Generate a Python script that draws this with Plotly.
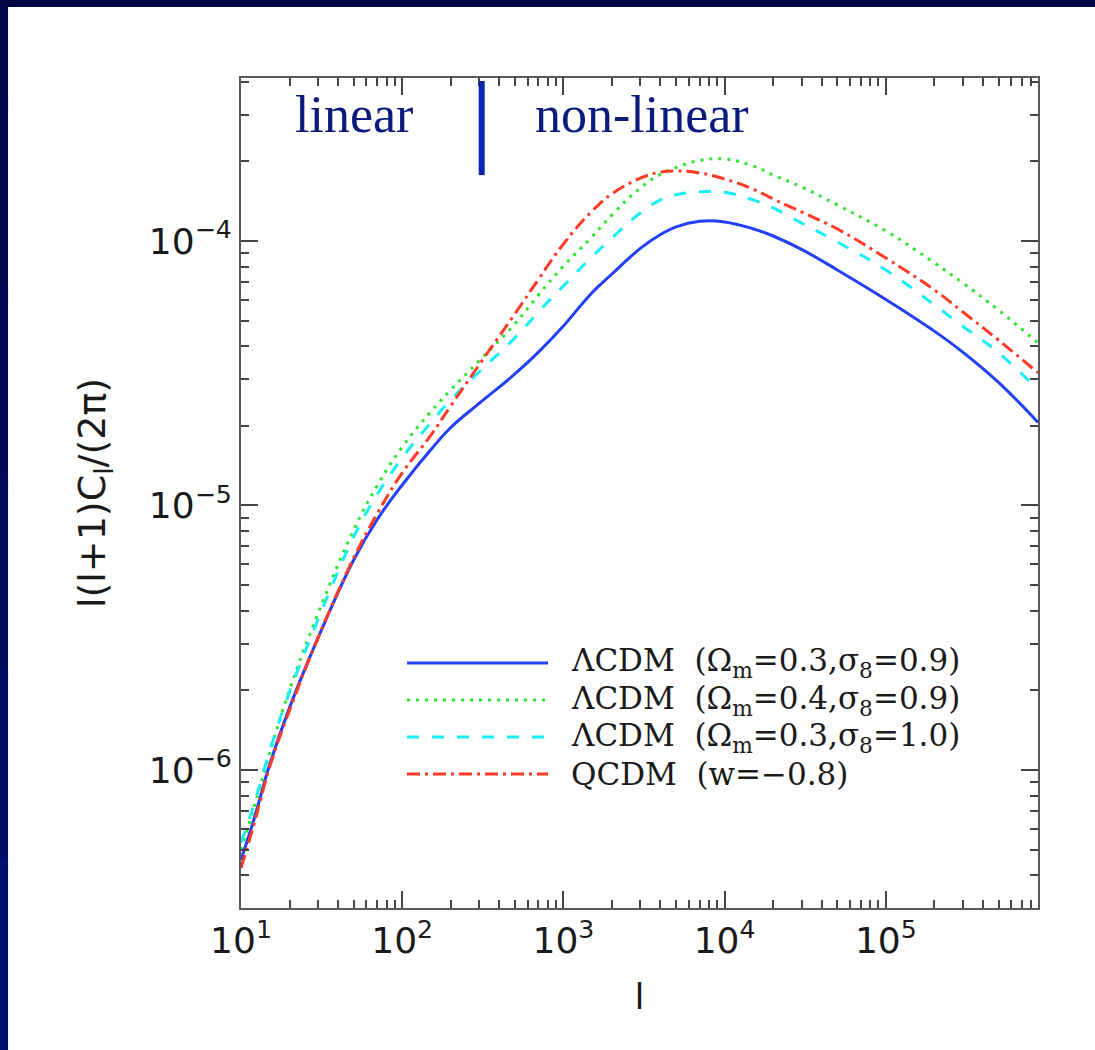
import plotly.graph_objects as go

# multipole moments (shared sampling for all four models)
ell = [10, 12, 15, 20, 30, 50, 70, 100, 150, 200, 300, 500, 700, 1000, 1500,
       2000, 3000, 4000, 5000, 7000, 1e4, 1.5e4, 2e4, 3e4, 5e4, 1e5, 2e5, 3e5,
       5e5, 8.8e5]

# l(l+1)C_l/(2pi) for each cosmology
lcdm_om03_s09 = [4.57e-7, 6.47e-7, 1.04e-6, 1.72e-6, 3.15e-6, 6.22e-6, 8.85e-6,
                 1.195e-5, 1.62e-5, 1.97e-5, 2.43e-5, 3.14e-5, 3.80e-5, 4.77e-5,
                 6.36e-5, 7.50e-5, 9.37e-5, 1.058e-4, 1.131e-4, 1.186e-4,
                 1.18e-4, 1.112e-4, 1.044e-4, 9.29e-5, 7.77e-5, 6.01e-5,
                 4.56e-5, 3.80e-5, 2.92e-5, 2.06e-5]
lcdm_om04_s09 = [4.98e-7, 7.18e-7, 1.149e-6, 2.007e-6, 3.89e-6, 8.08e-6,
                 1.188e-5, 1.664e-5, 2.257e-5, 2.733e-5, 3.52e-5, 4.86e-5,
                 6.25e-5, 8.04e-5, 1.035e-4, 1.254e-4, 1.586e-4, 1.786e-4,
                 1.894e-4, 2.014e-4, 2.04e-4, 1.921e-4, 1.776e-4, 1.60e-4,
                 1.368e-4, 1.091e-4, 8.26e-5, 6.94e-5, 5.48e-5, 4.11e-5]
lcdm_om03_s10 = [5.30e-7, 7.37e-7, 1.17e-6, 1.972e-6, 3.69e-6, 7.60e-6,
                 1.10e-5, 1.512e-5, 2.05e-5, 2.506e-5, 3.197e-5, 4.30e-5,
                 5.39e-5, 6.76e-5, 8.70e-5, 1.026e-4, 1.276e-4, 1.429e-4,
                 1.494e-4, 1.533e-4, 1.528e-4, 1.429e-4, 1.333e-4, 1.169e-4,
                 9.91e-5, 7.77e-5, 5.73e-5, 4.76e-5, 3.78e-5, 2.733e-5]
qcdm_w08 = [4.26e-7, 6.19e-7, 1.018e-6, 1.68e-6, 3.15e-6, 6.33e-6, 9.32e-6,
            1.327e-5, 1.836e-5, 2.378e-5, 3.40e-5, 5.30e-5, 7.16e-5, 9.74e-5,
            1.294e-4, 1.507e-4, 1.726e-4, 1.82e-4, 1.838e-4, 1.807e-4,
            1.715e-4, 1.572e-4, 1.441e-4, 1.287e-4, 1.110e-4, 8.62e-5,
            6.53e-5, 5.39e-5, 4.22e-5, 3.17e-5]

labels = [
    "ΛCDM  (Ω<sub>m</sub>=0.3,σ<sub>8</sub>=0.9)",
    "ΛCDM  (Ω<sub>m</sub>=0.4,σ<sub>8</sub>=0.9)",
    "ΛCDM  (Ω<sub>m</sub>=0.3,σ<sub>8</sub>=1.0)",
    "QCDM  (w=−0.8)",
]
series = [lcdm_om03_s09, lcdm_om04_s09, lcdm_om03_s10, qcdm_w08]
colors = ["#2340f8", "#2fe62f", "#19eef8", "#ff3a26"]
dashes = ["solid", "3px,6px", "12px,13px", "13px,5px,3px,5px"]

x_exps = [1, 2, 3, 4, 5]
y_exps = [-6, -5, -4]
x_ticks = [10.0 ** e for e in x_exps]
y_ticks = [10.0 ** e for e in y_exps]
x_ticktext = ["10<sup>%d</sup>" % e for e in x_exps]
y_ticktext = ["10<sup>−%d</sup>" % abs(e) for e in y_exps]
x_minor = [m * 10.0 ** k for k in range(1, 6) for m in range(2, 10)]
y_minor = [m * 10.0 ** k for k in range(-7, -3) for m in range(2, 10)]

fig = go.Figure()
for name, vals, col, dsh in zip(labels, series, colors, dashes):
    fig.add_trace(go.Scatter(
        x=ell, y=vals, mode="lines", name=name, showlegend=False,
        line=dict(color=col, width=3, dash=dsh, shape="spline", smoothing=1.2),
    ))

# key: long line samples with text to the right
row_y = [0.2952, 0.2506, 0.2060, 0.1614]
for name, col, dsh, yy in zip(labels, colors, dashes, row_y):
    fig.add_shape(type="line", xref="paper", yref="paper",
                  x0=0.2083, x1=0.3852, y0=yy, y1=yy,
                  line=dict(color=col, width=3, dash=dsh))
    fig.add_annotation(xref="paper", yref="paper", x=0.4128, y=yy,
                       xanchor="left", yanchor="middle", showarrow=False,
                       text=name, borderpad=0,
                       font=dict(family="DejaVu Serif", size=31, color="#1a1a1a"))

# linear / non-linear divider
fig.add_shape(type="line", xref="paper", yref="paper",
              x0=0.302, x1=0.302, y0=0.883, y1=0.9964,
              line=dict(color="#0a25b0", width=6))
fig.add_annotation(xref="paper", yref="paper", x=0.0652, y=0.956,
                   xanchor="left", yanchor="middle", showarrow=False,
                   text="linear",
                   font=dict(family="Liberation Serif", size=52, color="#0a1a7d"))
fig.add_annotation(xref="paper", yref="paper", x=0.3664, y=0.956,
                   xanchor="left", yanchor="middle", showarrow=False,
                   text="non-linear",
                   font=dict(family="Liberation Serif", size=52, color="#0a1a7d"))

# navy slide frame along the top and left edges
fig.add_shape(type="rect", xref="paper", yref="paper",
              x0=-0.32, x1=1.2, y0=1.0855, y1=1.2,
              line=dict(width=0), fillcolor="#000645")
band_cols = ["#000645", "#00074d", "#000955", "#000b5e", "#000d66", "#00106e"]
n = len(band_cols)
step = (1.2 + 0.18) / n
for i, c in enumerate(band_cols):
    top = 1.2 - i * step + 0.01
    bot = 1.2 - (i + 1) * step - 0.01
    fig.add_shape(type="rect", xref="paper", yref="paper",
                  x0=-0.32, x1=-0.2923, y0=bot, y1=top,
                  line=dict(width=0), fillcolor=c)

tick_font = dict(family="DejaVu Sans", size=36, color="#1a1a1a")
minor_style = dict(ticks="inside", ticklen=8, tickwidth=1.5, tickcolor="#444",
                   showgrid=False, tickmode="array")
axis_common = dict(
    type="log", showgrid=False, zeroline=False,
    showline=True, linecolor="#5a5a5a", linewidth=2, mirror="ticks",
    ticks="inside", ticklen=17, tickwidth=1.5, tickcolor="#444",
    tickfont=tick_font, tickmode="array",
)

fig.update_layout(
    width=1095, height=1050,
    margin=dict(l=241, r=57, t=78, b=142),
    paper_bgcolor="white", plot_bgcolor="white",
    xaxis=dict(axis_common, range=[1, 5.944], tickvals=x_ticks,
               ticktext=x_ticktext, minor=dict(minor_style, tickvals=x_minor),
               title=dict(text="l", font=dict(family="DejaVu Sans", size=36,
                                              color="#1a1a1a"), standoff=24)),
    yaxis=dict(axis_common, range=[-6.522, -3.384], tickvals=y_ticks,
               ticktext=y_ticktext, minor=dict(minor_style, tickvals=y_minor),
               title=dict(text="l(l+1)C<sub>l</sub>/(2π)",
                          font=dict(family="DejaVu Sans", size=38,
                                    color="#1a1a1a"), standoff=32)),
)

fig.write_html("out.html")
